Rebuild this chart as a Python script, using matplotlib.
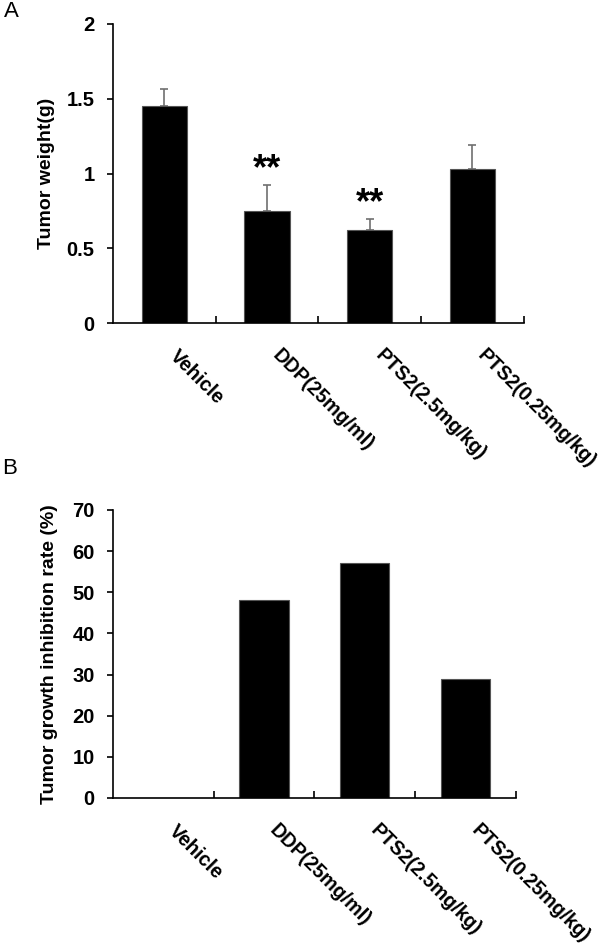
import matplotlib
matplotlib.use('Agg')
from matplotlib import pyplot as plt
from matplotlib import transforms
import numpy as np

groups = ["Vehicle", "DDP(25mg/ml)", "PTS2(2.5mg/kg)", "PTS2(0.25mg/kg)"]
tumor_weight = [1.45, 0.75, 0.62, 1.03]
tumor_weight_err = [0.115, 0.17, 0.075, 0.16]
significance = ["", "**", "**", ""]
inhibition_rate = [0, 48, 57, 29]

plt.rcParams['font.family'] = ['Liberation Sans', 'DejaVu Sans']
plt.rcParams['font.weight'] = 'bold'

fig = plt.figure(figsize=(6, 9.52), dpi=100)
ax_a = fig.add_axes([0.188, 0.6607, 0.685, 0.3141])
ax_b = fig.add_axes([0.188, 0.1618, 0.672, 0.3025])

x = np.arange(len(groups))


def style_axes(ax, ymax, yticks, ylabel):
    ax.set_xlim(-0.5, len(groups) - 0.5)
    ax.set_ylim(0, ymax)
    ax.set_yticks(yticks)
    ax.set_yticklabels([("%g" % t) for t in yticks], fontsize=14.5, fontweight='bold')
    ax.spines['top'].set_visible(False)
    ax.spines['right'].set_visible(False)
    for s in ['left', 'bottom']:
        ax.spines[s].set_linewidth(1.2)
    ax.tick_params(axis='y', direction='out', length=4, width=1.2, pad=9)
    # category boundaries as inward ticks
    ax.set_xticks(np.arange(len(groups)) + 0.5)
    ax.set_xticklabels([])
    ax.tick_params(axis='x', direction='in', length=5, width=1.2)
    # group names, rotated, placed below each bar
    offset = transforms.ScaledTranslation(0.15, -0.23, fig.dpi_scale_trans)
    for i in range(len(groups)):
        ax.text(x[i], 0, groups[i], transform=ax.get_xaxis_transform() + offset,
                rotation=-45, ha='left', va='top', rotation_mode='anchor',
                fontsize=14.2, fontweight='bold', clip_on=False)
    ax.set_ylabel(ylabel, fontsize=14, fontweight='bold')


# Panel A
ax_a.bar(x, tumor_weight, width=0.44, color='black', edgecolor='#555555', linewidth=0.8, zorder=2)
ax_a.errorbar(x, tumor_weight, yerr=[np.zeros(len(x)), tumor_weight_err], fmt='none',
              ecolor='#707070', elinewidth=1.2, capsize=3, capthick=1.2, zorder=1)
for i in range(len(groups)):
    if significance[i]:
        ax_a.text(x[i], tumor_weight[i] + tumor_weight_err[i] + 0.04, significance[i],
                  ha='center', va='baseline', fontsize=26, fontweight='bold')
style_axes(ax_a, 2, [0, 0.5, 1, 1.5, 2], "Tumor weight(g)")
ax_a.yaxis.set_label_coords(-0.14, 0.5)

# Panel B
ax_b.bar(x, inhibition_rate, width=0.49, color='black', edgecolor='#555555', linewidth=0.8, zorder=2)
style_axes(ax_b, 70, [0, 10, 20, 30, 40, 50, 60, 70], "Tumor growth inhibition rate (%)")
ax_b.yaxis.set_label_coords(-0.135, 0.5)

fig.text(0.006, 0.999, "A", fontsize=16, fontweight='normal', va='top', ha='left')
fig.text(0.004, 0.519, "B", fontsize=16, fontweight='normal', va='top', ha='left')

plt.savefig("out.png", dpi=100)
